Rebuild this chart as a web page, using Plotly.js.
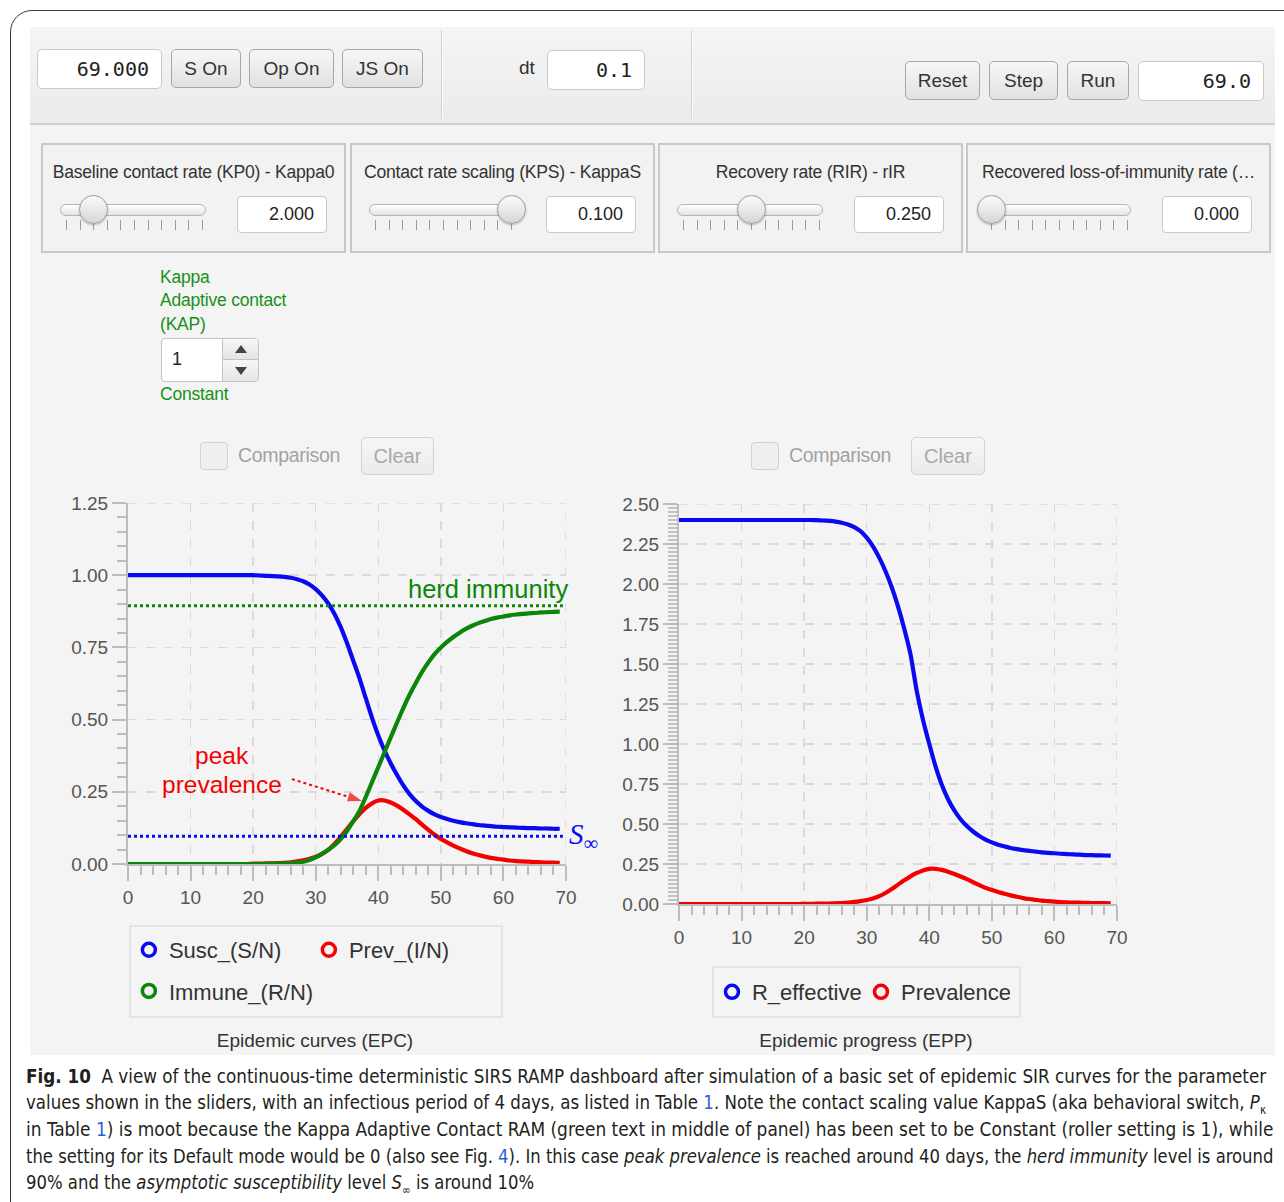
<!DOCTYPE html>
<html><head><meta charset="utf-8">
<script src="https://cdn.plot.ly/plotly-3.0.1.min.js"></script>
<style>
html,body{margin:0;padding:0;background:#fff;width:1284px;height:1202px;overflow:hidden;font-family:'Liberation Sans',Arial,sans-serif;}
.abs{position:absolute;}
#frame{left:10px;top:10px;width:1330px;height:1260px;border:1.5px solid #3a3a3a;border-radius:22px;box-sizing:border-box;}
#dash{left:30px;top:27px;width:1245px;height:1028px;background:#f4f4f4;}
#toolbar{left:30px;top:27px;width:1245px;height:96px;background:linear-gradient(#f5f5f5,#ebebeb);border-bottom:2px solid #d0d0d0;}
.vsep{width:1px;background:#d2d2d2;top:30px;height:88px;box-shadow:1px 0 0 #fbfbfb;}
.field{background:#fff;border:1px solid #c9c9c9;border-radius:5px;box-sizing:border-box;font-family:'DejaVu Sans Mono',monospace;font-size:20px;color:#222;padding-right:12px;display:flex;align-items:center;justify-content:flex-end;}
.btn{background:linear-gradient(#f7f7f7,#e1e1e1);border:1px solid #a8a8a8;border-radius:5px;box-sizing:border-box;font-size:19px;color:#333;display:flex;align-items:center;justify-content:center;}
.panel{border:2px solid #c8c8c8;background:#f2f2f2;box-sizing:border-box;top:143px;height:110px;width:305px;}
.ptitle{position:absolute;left:0;right:0;top:17px;text-align:center;font-size:17.6px;color:#333;white-space:nowrap;letter-spacing:-0.25px;}
.track{position:absolute;top:59px;left:17px;width:146px;height:12px;border-radius:7px;background:linear-gradient(#ffffff,#e4e4e4);border:1px solid #b5b5b5;box-sizing:border-box;}
.knob{position:absolute;top:50px;width:29px;height:29px;border-radius:50%;background:linear-gradient(#fbfbfb,#d6d6d6);border:1px solid #9c9c9c;box-sizing:border-box;box-shadow:0 1px 2px rgba(0,0,0,0.25);}
.tick{position:absolute;top:75px;width:1px;height:10px;background:#9a9a9a;}
.vbox{position:absolute;top:51px;left:194px;width:90px;height:37px;background:#fff;border:1px solid #c9c9c9;border-radius:4px;box-sizing:border-box;font-size:18px;color:#222;display:flex;align-items:center;justify-content:flex-end;padding-right:12px;}
.green{color:#17901a;font-size:17.5px;letter-spacing:-0.2px;}
.cmp{font-size:19.5px;color:#a2a2a2;letter-spacing:-0.3px;}
.chk{width:28px;height:28px;border:1px solid #d2d2d2;border-radius:4px;background:#efefef;box-sizing:border-box;}
.clr{background:linear-gradient(#f6f6f6,#ebebeb);border:1px solid #d2d2d2;border-radius:5px;box-sizing:border-box;font-size:20px;color:#a8a8a8;display:flex;align-items:center;justify-content:center;}
.cap{position:absolute;left:26px;white-space:nowrap;font-family:'Liberation Sans Narrow','DejaVu Sans Condensed','Liberation Sans',sans-serif;font-size:19px;line-height:26px;color:#231f20;transform-origin:0 50%;}
.lnk{color:#2b5fd9;}
</style></head>
<body>
<div id="frame" class="abs"></div>
<div id="dash" class="abs"></div>
<div id="toolbar" class="abs"></div>
<div class="abs vsep" style="left:441px"></div>
<div class="abs vsep" style="left:691px"></div>

<div class="abs field" style="left:37px;top:49px;width:125px;height:40px;">69.000</div>
<div class="abs btn" style="left:171px;top:49px;width:70px;height:39px;">S On</div>
<div class="abs btn" style="left:249px;top:49px;width:85px;height:39px;">Op On</div>
<div class="abs btn" style="left:342px;top:49px;width:81px;height:39px;">JS On</div>
<div class="abs" style="left:519px;top:57px;font-size:19px;color:#333;">dt</div>
<div class="abs field" style="left:547px;top:50px;width:98px;height:40px;">0.1</div>
<div class="abs btn" style="left:905px;top:61px;width:75px;height:39px;">Reset</div>
<div class="abs btn" style="left:989px;top:61px;width:69px;height:39px;">Step</div>
<div class="abs btn" style="left:1067px;top:61px;width:62px;height:39px;">Run</div>
<div class="abs field" style="left:1138px;top:61px;width:126px;height:40px;">69.0</div>

<div class="abs panel" style="left:41px" data-k="0.226"><div class="ptitle">Baseline contact rate (KP0) - Kappa0</div><div class="vbox">2.000</div></div>
<div class="abs panel" style="left:350px" data-k="0.97"><div class="ptitle">Contact rate scaling (KPS) - KappaS</div><div class="vbox">0.100</div></div>
<div class="abs panel" style="left:658px" data-k="0.51"><div class="ptitle">Recovery rate (RIR) - rIR</div><div class="vbox">0.250</div></div>
<div class="abs panel" style="left:966px" data-k="0.04"><div class="ptitle">Recovered loss-of-immunity rate (…</div><div class="vbox">0.000</div></div>

<div class="abs green" style="left:160px;top:267px;">Kappa</div>
<div class="abs green" style="left:160px;top:290px;">Adaptive contact</div>
<div class="abs green" style="left:160px;top:314px;">(KAP)</div>
<div class="abs" style="left:161px;top:338px;width:98px;height:44px;border:1px solid #c4c4c4;border-radius:4px;background:#fff;box-sizing:border-box;overflow:hidden;">
  <div class="abs" style="left:10px;top:10px;font-size:18px;color:#222;">1</div>
  <div class="abs" style="left:60px;top:0;width:38px;height:21px;background:linear-gradient(#f7f7f7,#e3e3e3);border-left:1px solid #c4c4c4;border-bottom:1px solid #c4c4c4;box-sizing:border-box;"></div>
  <div class="abs" style="left:60px;top:21px;width:38px;height:23px;background:linear-gradient(#f7f7f7,#e3e3e3);border-left:1px solid #c4c4c4;box-sizing:border-box;"></div>
  <div class="abs" style="left:73px;top:6px;width:0;height:0;border-left:6px solid transparent;border-right:6px solid transparent;border-bottom:8px solid #444;"></div>
  <div class="abs" style="left:73px;top:28px;width:0;height:0;border-left:6px solid transparent;border-right:6px solid transparent;border-top:8px solid #444;"></div>
</div>
<div class="abs green" style="left:160px;top:384px;">Constant</div>

<div class="abs chk" style="left:200px;top:442px;"></div>
<div class="abs cmp" style="left:238px;top:444px;">Comparison</div>
<div class="abs clr" style="left:361px;top:437px;width:73px;height:38px;">Clear</div>
<div class="abs chk" style="left:751px;top:442px;"></div>
<div class="abs cmp" style="left:789px;top:444px;">Comparison</div>
<div class="abs clr" style="left:911px;top:437px;width:74px;height:38px;">Clear</div>

<div id="epc" class="abs" style="left:30px;top:480px;width:590px;height:580px;"></div>
<div id="epp" class="abs" style="left:600px;top:480px;width:590px;height:580px;"></div>

<div class="cap" style="top:1063px;" data-w="1240"><b>Fig. 10</b>&nbsp; A view of the continuous-time deterministic SIRS RAMP dashboard after simulation of a basic set of epidemic SIR curves for the parameter</div>
<div class="cap" style="top:1089px;" data-w="1240">values shown in the sliders, with an infectious period of 4 days, as listed in Table <span class="lnk">1</span>. Note the contact scaling value KappaS (aka behavioral switch, <i>P</i><sub style="font-size:12px">κ</sub></div>
<div class="cap" style="top:1116px;" data-w="1247">in Table <span class="lnk">1</span>) is moot because the Kappa Adaptive Contact RAM (green text in middle of panel) has been set to be Constant (roller setting is 1), while</div>
<div class="cap" style="top:1143px;" data-w="1247">the setting for its Default mode would be 0 (also see Fig. <span class="lnk">4</span>). In this case <i>peak prevalence</i> is reached around 40 days, the <i>herd immunity</i> level is around</div>
<div class="cap" style="top:1169px;" data-w="508">90% and the <i>asymptotic susceptibility</i> level <i>S</i><sub style="font-size:12px">∞</sub> is around 10%</div>

<script>
// ---------- data ----------
const days = [0,1,2,3,4,5,6,7,8,9,10,11,12,13,14,15,16,17,18,19,20,21,22,23,24,25,26,27,28,29,30,31,32,33,34,35,36,37,38,39,40,41,42,43,44,45,46,47,48,49,50,51,52,53,54,55,56,57,58,59,60,61,62,63,64,65,66,67,68,69];
const suscSN = [1.000,1.000,1.000,1.000,1.000,1.000,1.000,1.000,1.000,1.000,1.000,1.000,1.000,1.000,1.000,1.000,1.000,1.000,1.000,1.000,1.000,
  0.999,0.998,0.997,0.996,0.994,0.991,0.986,0.979,0.968,0.952,0.930,0.902,0.866,0.820,0.765,0.704,0.643,0.574,0.506,0.445,0.393,0.348,0.308,0.272,0.242,0.218,0.199,0.184,0.172,0.163,0.156,0.150,0.145,0.141,0.138,0.135,0.133,0.131,0.129,0.128,0.127,0.126,0.125,0.124,0.124,0.123,0.123,0.122,0.122];
const prevIN = [0,0,0,0,0,0,0,0,0,0,0,0,0,0,0,0,0,0,0,0,
  0.001,0.001,0.002,0.002,0.003,0.004,0.006,0.009,0.013,0.018,0.025,0.035,0.049,0.069,0.094,0.121,0.148,0.173,0.194,0.210,0.220,0.220,0.213,0.202,0.188,0.172,0.155,0.136,0.118,0.101,0.087,0.075,0.064,0.054,0.045,0.037,0.031,0.026,0.021,0.018,0.015,0.012,0.010,0.009,0.008,0.007,0.006,0.005,0.005,0.004];
const immuneRN = [0,0,0,0,0,0,0,0,0,0,0,0,0,0,0,0,0,0,0,0,0,0,0,
  0.001,0.001,0.002,0.003,0.005,0.008,0.014,0.023,0.035,0.049,0.065,0.086,0.114,0.148,0.184,0.232,0.284,0.335,0.387,0.439,0.490,0.540,0.586,0.627,0.665,0.698,0.727,0.750,0.769,0.786,0.801,0.814,0.825,0.834,0.841,0.848,0.853,0.857,0.861,0.864,0.866,0.868,0.869,0.871,0.872,0.873,0.874];
const rEffective = [2.40,2.40,2.40,2.40,2.40,2.40,2.40,2.40,2.40,2.40,2.40,2.40,2.40,2.40,2.40,2.40,2.40,2.40,2.40,2.40,2.40,2.40,2.399,2.397,2.394,
  2.390,2.383,2.372,2.355,2.330,2.290,2.235,2.165,2.08,1.98,1.86,1.72,1.56,1.33,1.15,1.00,0.86,0.745,0.655,0.585,0.530,0.487,0.453,0.425,0.403,0.385,0.371,0.360,0.350,0.343,0.337,0.332,0.327,0.323,0.320,0.317,0.314,0.312,0.310,0.308,0.306,0.305,0.304,0.303,0.302];
const prevalence = prevIN;
const herdImmunityLevel = 0.894;
const sInfinityLevel = 0.096;
const refLineEnd = 69.5;
const peakArrowX = [26.2, 37.4];
const peakArrowY = [0.294, 0.218];
const xTickVals = [0,10,20,30,40,50,60,70];
const epcYTicks = [0,0.25,0.5,0.75,1.0,1.25];
const eppYTicks = [0,0.25,0.5,0.75,1.0,1.25,1.5,1.75,2.0,2.25,2.5];
const epcNames = ['Susc_(S/N)','Prev_(I/N)','Immune_(R/N)'];
const eppNames = ['R_effective','Prevalence'];
const epcTitle = 'Epidemic curves (EPC)';
const eppTitle = 'Epidemic progress (EPP)';

// ---------- styles ----------
const BLUE='#0a0af0', RED='#f40000', GREEN='#0b860b';
const FAM='Liberation Sans, Arial, sans-serif';
const AX='#bcbcbc', GRID='#dadada', TF={family:FAM,size:19,color:'#555'};
function xaxis(){return {range:[0,70],tickvals:xTickVals,ticktext:xTickVals.map(String),ticks:'outside',ticklen:15,tickwidth:2,tickcolor:AX,
  showline:true,linecolor:AX,linewidth:2,showgrid:true,gridcolor:GRID,griddash:'dash',gridwidth:1.5,zeroline:false,tickfont:TF,fixedrange:true,
  minor:{dtick:2,tick0:0,ticks:'outside',ticklen:9,tickwidth:2,tickcolor:AX,showgrid:false}};}
function yaxis(r,vals,minor,mw,mc){return {range:r,tickvals:vals,ticktext:vals.map(v=>v.toFixed(2)),ticks:'outside',ticklen:14,tickwidth:2,tickcolor:AX,
  showline:true,linecolor:AX,linewidth:2,showgrid:true,gridcolor:GRID,griddash:'dash',gridwidth:1.5,zeroline:false,tickfont:TF,fixedrange:true,
  minor:{dtick:minor,tick0:0,ticks:'outside',ticklen:9,tickwidth:mw,tickcolor:mc,showgrid:false}};}
function edgeGrid(xmax,ymax){return [
  {type:'line',xref:'x',yref:'y',x0:0,x1:xmax,y0:ymax,y1:ymax,line:{color:GRID,width:1.5,dash:'dash'},layer:'below'},
  {type:'line',xref:'x',yref:'y',x0:xmax,x1:xmax,y0:0,y1:ymax,line:{color:GRID,width:1.5,dash:'dash'},layer:'below'}];}
function chartTitle(t,x){return {text:t,xref:'container',yref:'container',x:x,y:0.0345,xanchor:'center',yanchor:'middle',font:{family:FAM,size:19,color:'#333'}};}
const LEGFONT={family:FAM,size:22,color:'#333'};
function legTrace(name,color,leg){return {x:[null],y:[null],type:'scatter',mode:'markers',name:name,legend:leg,showlegend:true,
  marker:{symbol:'circle-open',size:13,color:color,line:{width:3.5,color:color}},hoverinfo:'skip'};}
function curve(y,color){return {x:days,y:y,type:'scatter',mode:'lines',line:{color:color,width:4.2,shape:'spline',smoothing:0.6},showlegend:false,hoverinfo:'skip'};}

// ---------- EPC ----------
const peakArrow={x:peakArrowX,y:peakArrowY,type:'scatter',mode:'lines+markers',showlegend:false,hoverinfo:'skip',cliponaxis:false,
  line:{color:RED,width:2,dash:'dot'},marker:{symbol:'arrow',size:[0,15],angleref:'previous',color:RED,line:{width:0}}};
const epcData=[curve(suscSN,BLUE),curve(prevIN,RED),curve(immuneRN,GREEN),peakArrow,
  legTrace(epcNames[0],BLUE,'legend'),legTrace(epcNames[1],RED,'legend'),legTrace(epcNames[2],GREEN,'legend2')];
const legBase={orientation:'h',xanchor:'left',yanchor:'top',bgcolor:'rgba(0,0,0,0)',borderwidth:0,font:LEGFONT,itemclick:false,itemdoubleclick:false};
const epcLayout={width:590,height:580,margin:{l:98,r:54,t:23,b:196},paper_bgcolor:'rgba(0,0,0,0)',plot_bgcolor:'rgba(0,0,0,0)',
  title:chartTitle(epcTitle,(315-30)/590),
  xaxis:xaxis(),yaxis:yaxis([0,1.25],epcYTicks,0.05,2,AX),
  legend:Object.assign({},legBase,{x:0.002,y:-0.180,entrywidth:135,entrywidthmode:'pixels'}),
  legend2:Object.assign({},legBase,{x:0.002,y:-0.294}),
  shapes:edgeGrid(70,1.25).concat([
    {type:'line',xref:'x',yref:'y',x0:0,x1:refLineEnd,y0:herdImmunityLevel,y1:herdImmunityLevel,line:{color:GREEN,width:3,dash:'dot'},layer:'above'},
    {type:'line',xref:'x',yref:'y',x0:0,x1:refLineEnd,y0:sInfinityLevel,y1:sInfinityLevel,line:{color:BLUE,width:3,dash:'dot'},layer:'above'},
    {type:'rect',xref:'paper',yref:'paper',x0:0.0046,x1:0.854,y0:-0.1717,y1:-0.4238,line:{color:'#dedede',width:1.5},fillcolor:'rgba(0,0,0,0)'}
  ]),
  annotations:[
    {xref:'paper',yref:'y',x:70.6/70,y:0.952,xanchor:'right',yanchor:'middle',text:'herd immunity',showarrow:false,font:{family:FAM,size:25.5,color:GREEN}},
    {xref:'x',yref:'y',x:15.0,y:0.377,xanchor:'center',yanchor:'middle',text:'peak',showarrow:false,font:{family:FAM,size:24.5,color:RED}},
    {xref:'x',yref:'y',x:15.0,y:0.277,xanchor:'center',yanchor:'middle',text:'prevalence',showarrow:false,font:{family:FAM,size:24.5,color:RED}},
    {xref:'paper',yref:'y',x:70.1/70,y:0.098,xanchor:'left',yanchor:'middle',text:'<i>S</i><sub>∞</sub>',showarrow:false,font:{family:'Liberation Serif, Times New Roman, serif',size:29,color:BLUE}}
  ]};

// ---------- EPP ----------
const eppData=[curve(rEffective,BLUE),curve(prevalence,RED),legTrace(eppNames[0],BLUE,'legend'),legTrace(eppNames[1],RED,'legend')];
const eppLayout={width:590,height:580,margin:{l:79,r:73,t:24,b:156},paper_bgcolor:'rgba(0,0,0,0)',plot_bgcolor:'rgba(0,0,0,0)',
  title:chartTitle(eppTitle,(866-600)/590),
  xaxis:xaxis(),yaxis:yaxis([0,2.5],eppYTicks,0.025,1.2,'#c2c2c2'),
  legend:Object.assign({},legBase,{x:0.0753,y:-0.1675,entrywidth:104,entrywidthmode:'pixels'}),
  shapes:edgeGrid(70,2.5).concat([{type:'rect',xref:'paper',yref:'paper',x0:0.0776,x1:0.7785,y0:-0.1575,y1:-0.2825,line:{color:'#dedede',width:1.5},fillcolor:'rgba(0,0,0,0)'}])};

const cfg={staticPlot:true,displayModeBar:false};
Plotly.newPlot('epc',epcData,epcLayout,cfg);
Plotly.newPlot('epp',eppData,eppLayout,cfg);

// ---------- slider decorations ----------
document.querySelectorAll('.panel').forEach(p=>{
  const k=parseFloat(p.dataset.k);
  const tr=document.createElement('div');tr.className='track';p.appendChild(tr);
  for(let i=0;i<11;i++){const t=document.createElement('div');t.className='tick';t.style.left=(23+i*13.6)+'px';p.appendChild(t);}
  const kn=document.createElement('div');kn.className='knob';kn.style.left=(17+k*146-14)+'px';p.appendChild(kn);
});
// ---------- caption line fitting ----------
function fitCaption(){document.querySelectorAll('.cap').forEach(c=>{const w=c.offsetWidth;const t=parseFloat(c.dataset.w);if(w>0)c.style.transform='scaleX('+(t/w)+')';});}
fitCaption();
if(document.fonts&&document.fonts.ready){document.fonts.ready.then(fitCaption);}
</script>
</body></html>
